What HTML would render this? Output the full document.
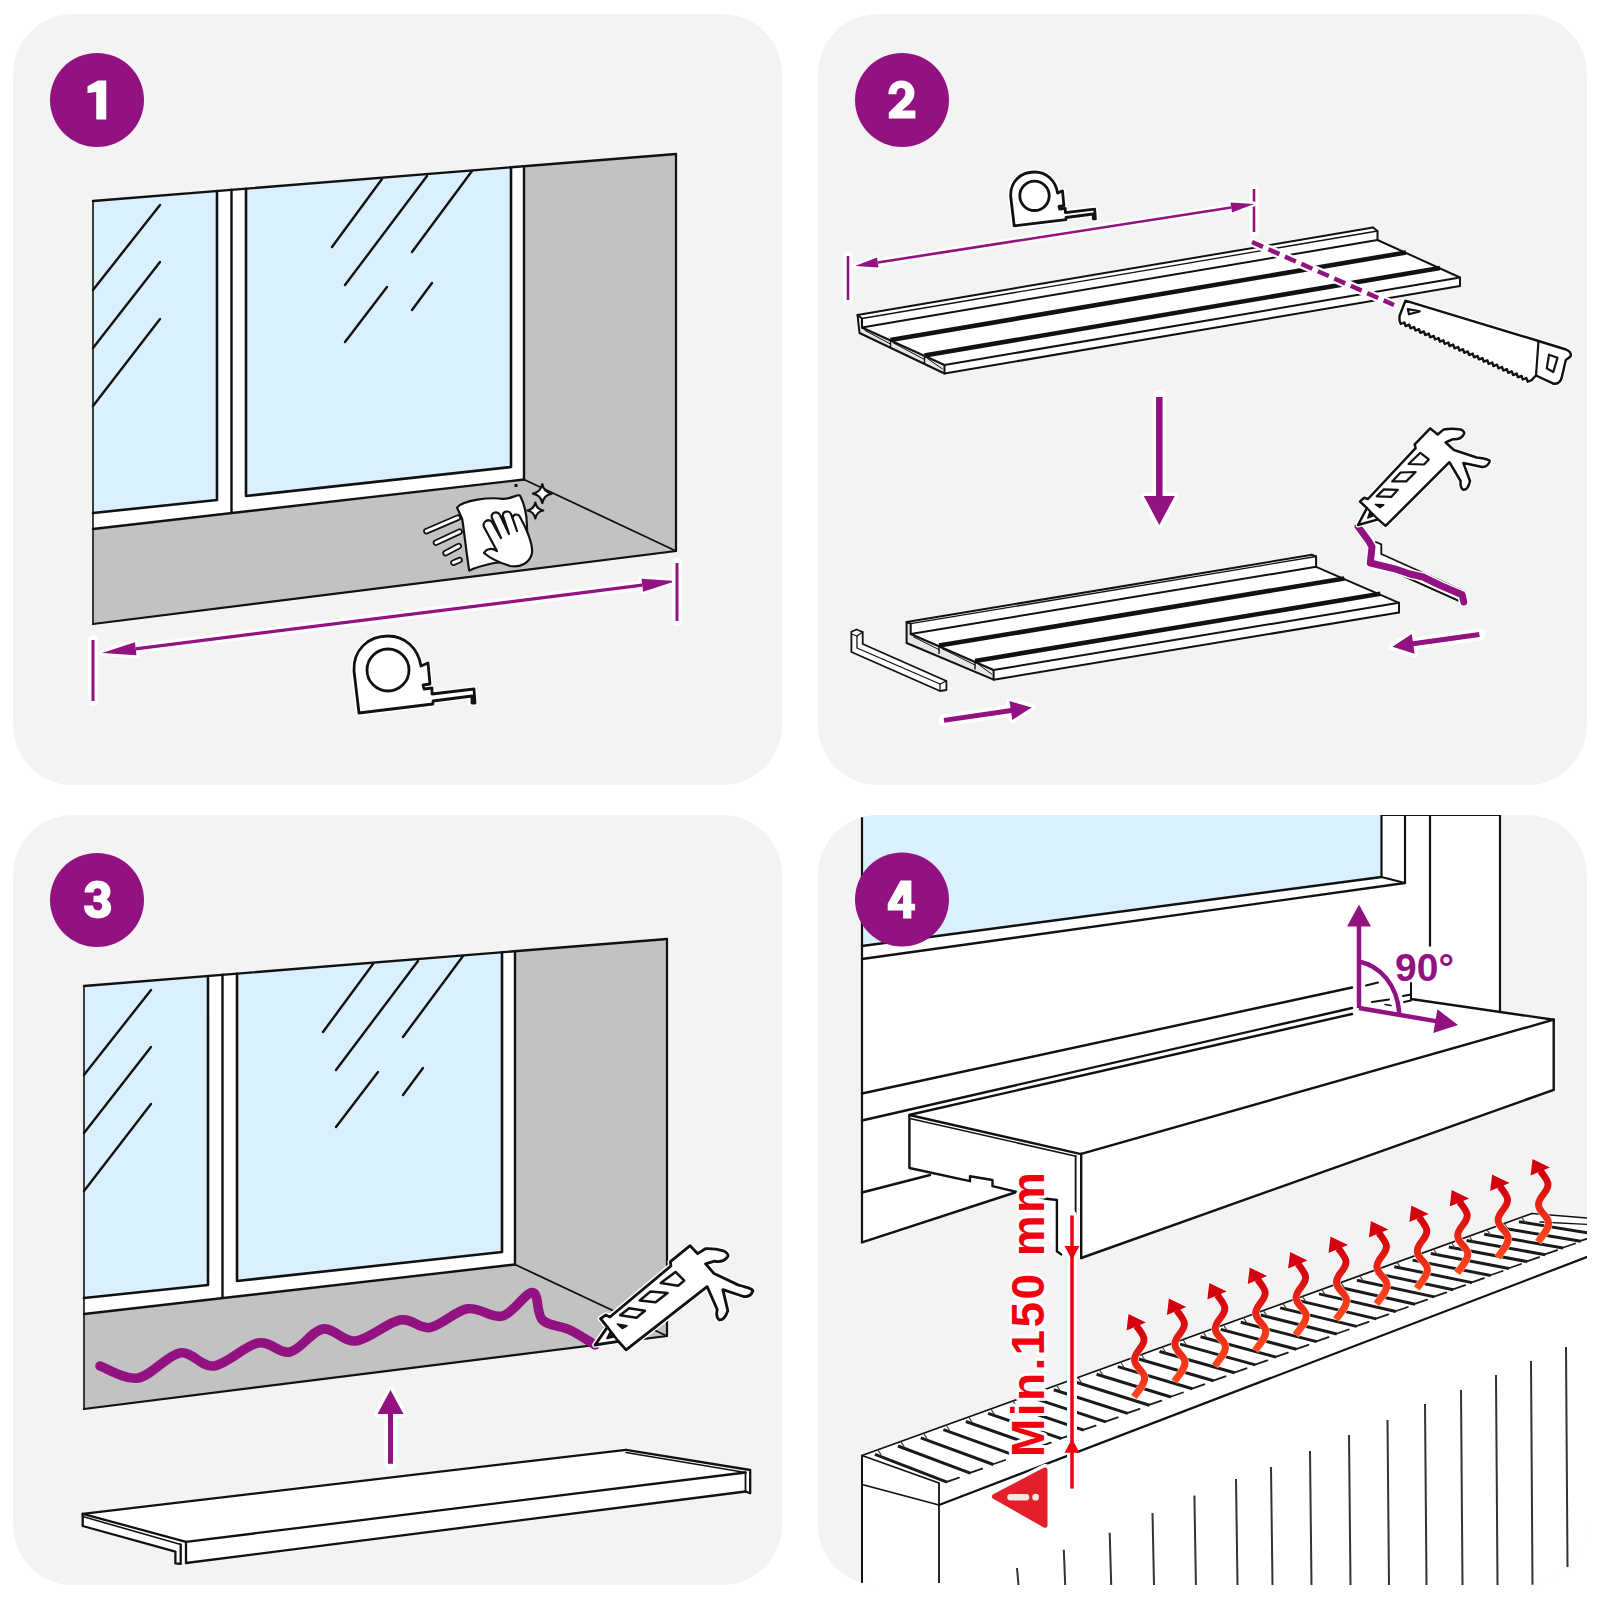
<!DOCTYPE html>
<html><head><meta charset="utf-8"><style>
html,body{margin:0;padding:0;background:#fff;}
svg{display:block;}
</style></head><body>
<svg width="1600" height="1600" viewBox="0 0 1600 1600">
<defs>
<clipPath id="c1"><rect x="13" y="14" width="769" height="771" rx="60"/></clipPath>
<clipPath id="c2"><rect x="818" y="14" width="769" height="771" rx="60"/></clipPath>
<clipPath id="c3"><rect x="13" y="815" width="769" height="770" rx="60"/></clipPath>
<clipPath id="c4"><rect x="818" y="815" width="769" height="770" rx="60"/></clipPath>
</defs>
<rect width="1600" height="1600" fill="#fff"/>
<rect x="13" y="14" width="769" height="771" rx="60" ry="60" fill="#f3f3f3"/>
<rect x="818" y="14" width="769" height="771" rx="60" ry="60" fill="#f3f3f3"/>
<rect x="13" y="815" width="769" height="770" rx="60" ry="60" fill="#f3f3f3"/>
<rect x="818" y="815" width="769" height="770" rx="60" ry="60" fill="#f3f3f3"/>
<g clip-path="url(#c1)">
<polygon points="93.0,201.0 524.0,166.3 524.0,479.5 93.0,529.0" fill="#fff" stroke="none" stroke-width="0" stroke-linejoin="round" />
<polygon points="524.0,166.3 676.0,154.0 676.0,551.0 524.0,479.5" fill="#c2c2c2" stroke="none" stroke-width="0" stroke-linejoin="round" />
<polygon points="93.0,529.0 524.0,479.5 676.0,551.0 676.0,552.0 93.0,624.0" fill="#c2c2c2" stroke="none" stroke-width="0" stroke-linejoin="round" />
<polygon points="93.0,201.0 217.0,191.0 217.0,500.0 93.0,513.0" fill="#dbf0fe" stroke="none" stroke-width="0" stroke-linejoin="round" />
<polygon points="246.0,188.7 511.0,167.3 511.0,467.0 246.0,496.0" fill="#dbf0fe" stroke="none" stroke-width="0" stroke-linejoin="round" />
<line x1="160.0" y1="205.0" x2="93.0" y2="290.0" stroke="#111" stroke-width="2.4" stroke-linecap="round" />
<line x1="160.0" y1="262.0" x2="93.0" y2="348.0" stroke="#111" stroke-width="2.4" stroke-linecap="round" />
<line x1="160.0" y1="319.0" x2="93.0" y2="406.0" stroke="#111" stroke-width="2.4" stroke-linecap="round" />
<line x1="382.0" y1="179.0" x2="332.0" y2="247.0" stroke="#111" stroke-width="2.4" stroke-linecap="round" />
<line x1="427.0" y1="176.0" x2="345.0" y2="285.0" stroke="#111" stroke-width="2.4" stroke-linecap="round" />
<line x1="472.0" y1="171.0" x2="412.0" y2="252.0" stroke="#111" stroke-width="2.4" stroke-linecap="round" />
<line x1="387.0" y1="287.0" x2="345.0" y2="342.0" stroke="#111" stroke-width="2.4" stroke-linecap="round" />
<line x1="432.0" y1="283.0" x2="412.0" y2="310.0" stroke="#111" stroke-width="2.4" stroke-linecap="round" />
<polyline points="217.0,191.0 217.0,500.0 93.0,513.0" fill="none" stroke="#111" stroke-width="2.6" stroke-linejoin="round" stroke-linecap="round" />
<polyline points="246.0,188.7 246.0,496.0 511.0,467.0 511.0,167.3" fill="none" stroke="#111" stroke-width="2.6" stroke-linejoin="round" stroke-linecap="round" />
<line x1="231.5" y1="189.8" x2="231.5" y2="512.0" stroke="#111" stroke-width="2.4" stroke-linecap="round" />
<line x1="524.0" y1="166.3" x2="524.0" y2="479.5" stroke="#111" stroke-width="2.4" stroke-linecap="round" />
<line x1="93.0" y1="201.0" x2="676.0" y2="154.0" stroke="#111" stroke-width="2.4" stroke-linecap="round" />
<line x1="93.0" y1="201.0" x2="93.0" y2="624.0" stroke="#111" stroke-width="1.6" stroke-linecap="butt" />
<line x1="93.0" y1="529.0" x2="524.0" y2="479.5" stroke="#111" stroke-width="2.4" stroke-linecap="round" />
<line x1="524.0" y1="479.5" x2="676.0" y2="551.0" stroke="#111" stroke-width="1.8" stroke-linecap="round" />
<line x1="676.0" y1="154.0" x2="676.0" y2="551.0" stroke="#111" stroke-width="2.2" stroke-linecap="round" />
<line x1="93.0" y1="624.0" x2="676.0" y2="551.0" stroke="#111" stroke-width="2.2" stroke-linecap="round" />
<line x1="426.4" y1="531.2" x2="457.9" y2="517.7" stroke="#111" stroke-width="6.5" stroke-linecap="round" />
<line x1="426.4" y1="531.2" x2="457.9" y2="517.7" stroke="#fff" stroke-width="3" stroke-linecap="round" />
<line x1="436.0" y1="542.6" x2="459.6" y2="531.7" stroke="#111" stroke-width="6.5" stroke-linecap="round" />
<line x1="436.0" y1="542.6" x2="459.6" y2="531.7" stroke="#fff" stroke-width="3" stroke-linecap="round" />
<line x1="445.6" y1="553.1" x2="458.7" y2="546.1" stroke="#111" stroke-width="6.5" stroke-linecap="round" />
<line x1="445.6" y1="553.1" x2="458.7" y2="546.1" stroke="#fff" stroke-width="3" stroke-linecap="round" />
<line x1="453.5" y1="562.7" x2="459.6" y2="560.1" stroke="#111" stroke-width="6.5" stroke-linecap="round" />
<line x1="453.5" y1="562.7" x2="459.6" y2="560.1" stroke="#fff" stroke-width="3" stroke-linecap="round" />
<path d="M457,507.6 C463,500 490,497 503,498.9 C512,499 517,494 520,495.4 C525,505 527,515 527,527 L528,560 L494,563 C485,565 476,567 469.2,570.6 C466,550 464,530 462.2,519 Z" fill="#fff" stroke="#111" stroke-width="2.2" stroke-linejoin="round" stroke-linecap="round" />
<path d="M484,553 C487,548 492,548 497,551 L484,527 C482,522 488,518 492,522 L501,538 L492,518 C490,513 497,510 500,515 L509,534 L503,516 C502,511 509,510 511,514 L517,531 L513,519 C512,514 518,513 520,517 C527,530 533,543 532,553 C530,563 520,568 510,566 C500,563 490,558 484,553 Z" fill="#fff" stroke="#111" stroke-width="2.2" stroke-linejoin="round" stroke-linecap="round" />
<path d="M542.3,484.1 Q543.8199999999999,492.08000000000004 551.8,493.6 Q543.8199999999999,495.12 542.3,503.1 Q540.78,495.12 532.8,493.6 Q540.78,492.08000000000004 542.3,484.1 Z" fill="#fff" stroke="#111" stroke-width="2.2" stroke-linejoin="round" stroke-linecap="round" />
<path d="M535.3,502.5 Q536.5799999999999,509.22 543.3,510.5 Q536.5799999999999,511.78 535.3,518.5 Q534.02,511.78 527.3,510.5 Q534.02,509.22 535.3,502.5 Z" fill="#fff" stroke="#111" stroke-width="2.2" stroke-linejoin="round" stroke-linecap="round" />
<rect x="514.5" y="484" width="3" height="3" fill="#111"/>
<line x1="135.7" y1="648.8" x2="642.3" y2="585.2" stroke="#fff" stroke-width="9.2" stroke-linecap="round" />
<polygon points="102.0,653.0 136.5,655.2 134.9,642.3" fill="#fff" stroke="#fff" stroke-width="6" stroke-linejoin="round" />
<polygon points="676.0,581.0 643.1,591.7 641.5,578.8" fill="#fff" stroke="#fff" stroke-width="6" stroke-linejoin="round" />
<line x1="135.7" y1="648.8" x2="642.3" y2="585.2" stroke="#931282" stroke-width="3.2" stroke-linecap="butt" />
<polygon points="102.0,653.0 136.5,655.2 134.9,642.3" fill="#931282" stroke="none" stroke-width="0" stroke-linejoin="round" />
<polygon points="676.0,581.0 643.1,591.7 641.5,578.8" fill="#931282" stroke="none" stroke-width="0" stroke-linejoin="round" />
<line x1="93.0" y1="640.0" x2="93.0" y2="701.0" stroke="#fff" stroke-width="10" stroke-linecap="round" />
<line x1="93.0" y1="640.0" x2="93.0" y2="701.0" stroke="#931282" stroke-width="3" stroke-linecap="butt" />
<line x1="677.0" y1="563.0" x2="677.0" y2="621.0" stroke="#fff" stroke-width="10" stroke-linecap="round" />
<line x1="677.0" y1="563.0" x2="677.0" y2="621.0" stroke="#931282" stroke-width="3" stroke-linecap="butt" />
<g transform="translate(353,636) scale(1.0) translate(-353,-636)">
<path d="M359,713 L354,671 C353,650 368,636 388,636 C405,636 418,648 421,666 L428,663 L430,684 L423,685 L424,689 L432,688 L432,694 L474,689 L475,703 L472,703 L472,696 L433,701 L433,704 Z" fill="#fff" stroke="#fff" stroke-width="6.0" stroke-linejoin="round" stroke-linecap="round" />
<path d="M359,713 L354,671 C353,650 368,636 388,636 C405,636 418,648 421,666 L428,663 L430,684 L423,685 L424,689 L432,688 L432,694 L474,689 L475,703 L472,703 L472,696 L433,701 L433,704 Z" fill="#fff" stroke="#111" stroke-width="2.8" stroke-linejoin="round" stroke-linecap="round" />
<circle cx="388" cy="670" r="21" fill="none" stroke="#111" stroke-width="2.80"/>
</g>
</g>
<g clip-path="url(#c2)">
<g transform="translate(1010,172) scale(0.7) translate(-353,-636)">
<path d="M359,713 L354,671 C353,650 368,636 388,636 C405,636 418,648 421,666 L428,663 L430,684 L423,685 L424,689 L432,688 L432,694 L474,689 L475,703 L472,703 L472,696 L433,701 L433,704 Z" fill="#fff" stroke="#fff" stroke-width="8.571428571428571" stroke-linejoin="round" stroke-linecap="round" />
<path d="M359,713 L354,671 C353,650 368,636 388,636 C405,636 418,648 421,666 L428,663 L430,684 L423,685 L424,689 L432,688 L432,694 L474,689 L475,703 L472,703 L472,696 L433,701 L433,704 Z" fill="#fff" stroke="#111" stroke-width="4.0" stroke-linejoin="round" stroke-linecap="round" />
<circle cx="388" cy="670" r="21" fill="none" stroke="#111" stroke-width="4.00"/>
</g>
<line x1="848.0" y1="256.0" x2="848.0" y2="300.0" stroke="#fff" stroke-width="9.6" stroke-linecap="round" />
<line x1="848.0" y1="256.0" x2="848.0" y2="300.0" stroke="#931282" stroke-width="2.6" stroke-linecap="butt" />
<line x1="1254.0" y1="189.0" x2="1254.0" y2="232.0" stroke="#fff" stroke-width="9.6" stroke-linecap="round" />
<line x1="1254.0" y1="189.0" x2="1254.0" y2="232.0" stroke="#931282" stroke-width="2.6" stroke-linecap="butt" />
<line x1="877.7" y1="262.5" x2="1231.3" y2="207.5" stroke="#fff" stroke-width="7.6" stroke-linecap="round" />
<polygon points="855.0,266.0 878.5,267.4 877.0,257.5" fill="#fff" stroke="#fff" stroke-width="5" stroke-linejoin="round" />
<polygon points="1254.0,204.0 1232.0,212.5 1230.5,202.6" fill="#fff" stroke="#fff" stroke-width="5" stroke-linejoin="round" />
<line x1="877.7" y1="262.5" x2="1231.3" y2="207.5" stroke="#931282" stroke-width="2.6" stroke-linecap="butt" />
<polygon points="855.0,266.0 878.5,267.4 877.0,257.5" fill="#931282" stroke="none" stroke-width="0" stroke-linejoin="round" />
<polygon points="1254.0,204.0 1232.0,212.5 1230.5,202.6" fill="#931282" stroke="none" stroke-width="0" stroke-linejoin="round" />
<polygon points="857.5,315.0 1373.0,227.5 1377.5,231.0 1377.5,240.0 1460.0,277.5 1460.0,286.0 944.5,373.5 859.5,333.0" fill="#fff" stroke="none" stroke-width="0" stroke-linejoin="round" />
<polygon points="857.5,315.0 862.0,318.5 862.0,327.5 944.5,365.0 944.5,373.5 859.5,333.0" fill="#e6e6e6" stroke="none" stroke-width="0" stroke-linejoin="round" />
<line x1="857.5" y1="315.0" x2="1373.0" y2="227.5" stroke="#111" stroke-width="2.0" stroke-linecap="round" />
<line x1="862.0" y1="318.5" x2="1377.5" y2="231.0" stroke="#111" stroke-width="1.3" stroke-linecap="round" />
<line x1="862.0" y1="327.5" x2="1377.5" y2="240.0" stroke="#111" stroke-width="2.0" stroke-linecap="round" />
<line x1="944.5" y1="365.0" x2="1460.0" y2="277.5" stroke="#111" stroke-width="2.0" stroke-linecap="round" />
<line x1="944.5" y1="373.5" x2="1460.0" y2="286.0" stroke="#111" stroke-width="2.0" stroke-linecap="round" />
<line x1="890.5" y1="340.0" x2="1406.0" y2="252.5" stroke="#111" stroke-width="4.6" stroke-linecap="butt" />
<line x1="924.5" y1="355.5" x2="1440.0" y2="268.0" stroke="#111" stroke-width="4.6" stroke-linecap="butt" />
<polyline points="857.5,315.0 859.5,333.0 944.5,373.5 944.5,365.0 862.0,327.5 862.0,318.5 857.5,315.0" fill="none" stroke="#111" stroke-width="2.0" stroke-linejoin="round" stroke-linecap="round" />
<polyline points="1373.0,227.5 1377.5,231.0 1377.5,240.0 1460.0,277.5 1460.0,286.0" fill="none" stroke="#111" stroke-width="2.0" stroke-linejoin="round" stroke-linecap="round" />
<line x1="865.0" y1="330.5" x2="890.5" y2="344.0" stroke="#111" stroke-width="1.0" stroke-linecap="round" />
<line x1="890.5" y1="341.0" x2="890.5" y2="348.0" stroke="#111" stroke-width="1.4" stroke-linecap="round" />
<line x1="924.5" y1="356.5" x2="924.5" y2="363.5" stroke="#111" stroke-width="1.4" stroke-linecap="round" />
<line x1="893.5" y1="343.0" x2="924.5" y2="359.5" stroke="#111" stroke-width="1.0" stroke-linecap="round" />
<line x1="927.5" y1="358.5" x2="942.5" y2="369.0" stroke="#111" stroke-width="1.0" stroke-linecap="round" />
<line x1="1252.0" y1="242.0" x2="1394.0" y2="305.0" stroke="#fff" stroke-width="9" stroke-linecap="round" />
<line x1="1252.0" y1="242.0" x2="1394.0" y2="305.0" stroke="#931282" stroke-width="4.5" stroke-linecap="butt" stroke-dasharray="12,6"/>
<path d="M1405.4,300.7 L1538.5,341 L1566,349.5 Q1572,352 1570.5,356.5 L1565.8,360 L1561.6,377.9 Q1560,384 1553.9,383.8 L1536,375.5 L1531.3,380.3 L1527.7,381.7 L1526.4,378.1 L1522.8,379.5 L1521.5,375.9 L1517.9,377.3 L1516.7,373.6 L1513.1,375.1 L1511.8,371.4 L1508.2,372.8 L1506.9,369.2 L1503.3,370.6 L1502.0,367.0 L1498.4,368.4 L1497.1,364.7 L1493.5,366.2 L1492.2,362.5 L1488.6,364.0 L1487.4,360.3 L1483.8,361.7 L1482.5,358.1 L1478.9,359.5 L1477.6,355.9 L1474.0,357.3 L1472.7,353.6 L1469.1,355.1 L1467.8,351.4 L1464.2,352.8 L1463.0,349.2 L1459.4,350.6 L1458.1,347.0 L1454.5,348.4 L1453.2,344.7 L1449.6,346.2 L1448.3,342.5 L1444.7,344.0 L1443.4,340.3 L1439.8,341.7 L1438.6,338.1 L1435.0,339.5 L1433.7,335.9 L1430.1,337.3 L1428.8,333.6 L1425.2,335.1 L1423.9,331.4 L1420.3,332.8 L1419.0,329.2 L1415.4,330.6 L1414.1,327.0 L1410.5,328.4 L1409.3,324.7 L1405.7,326.2 L1404.4,322.5 L1400.8,324.0 L1399.5,320.3 L1399.5,316 Z" fill="#fff" stroke="#fff" stroke-width="5" stroke-linejoin="round" stroke-linecap="round" />
<path d="M1405.4,300.7 L1538.5,341 L1566,349.5 Q1572,352 1570.5,356.5 L1565.8,360 L1561.6,377.9 Q1560,384 1553.9,383.8 L1536,375.5 L1531.3,380.3 L1527.7,381.7 L1526.4,378.1 L1522.8,379.5 L1521.5,375.9 L1517.9,377.3 L1516.7,373.6 L1513.1,375.1 L1511.8,371.4 L1508.2,372.8 L1506.9,369.2 L1503.3,370.6 L1502.0,367.0 L1498.4,368.4 L1497.1,364.7 L1493.5,366.2 L1492.2,362.5 L1488.6,364.0 L1487.4,360.3 L1483.8,361.7 L1482.5,358.1 L1478.9,359.5 L1477.6,355.9 L1474.0,357.3 L1472.7,353.6 L1469.1,355.1 L1467.8,351.4 L1464.2,352.8 L1463.0,349.2 L1459.4,350.6 L1458.1,347.0 L1454.5,348.4 L1453.2,344.7 L1449.6,346.2 L1448.3,342.5 L1444.7,344.0 L1443.4,340.3 L1439.8,341.7 L1438.6,338.1 L1435.0,339.5 L1433.7,335.9 L1430.1,337.3 L1428.8,333.6 L1425.2,335.1 L1423.9,331.4 L1420.3,332.8 L1419.0,329.2 L1415.4,330.6 L1414.1,327.0 L1410.5,328.4 L1409.3,324.7 L1405.7,326.2 L1404.4,322.5 L1400.8,324.0 L1399.5,320.3 L1399.5,316 Z" fill="#fff" stroke="#111" stroke-width="2.4" stroke-linejoin="round" stroke-linecap="round" />
<line x1="1538.5" y1="341.0" x2="1536.0" y2="375.5" stroke="#111" stroke-width="2.2" stroke-linecap="round" />
<polygon points="1549.0,354.7 1557.5,357.7 1553.3,372.0 1546.8,368.4" fill="none" stroke="#111" stroke-width="2.2" stroke-linejoin="round" />
<polygon points="1407.8,309.0 1419.7,311.4 1409.0,314.3" fill="none" stroke="#111" stroke-width="2.2" stroke-linejoin="round" />
<line x1="1159.3" y1="397.0" x2="1159.3" y2="498.0" stroke="#fff" stroke-width="13.5" stroke-linecap="round" />
<polygon points="1159.3,525.0 1143.8,496.0 1174.8,496.0" fill="#fff" stroke="#fff" stroke-width="7" stroke-linejoin="round" />
<line x1="1159.3" y1="397.0" x2="1159.3" y2="498.0" stroke="#931282" stroke-width="6.5" stroke-linecap="butt" />
<polygon points="1159.3,525.0 1143.8,496.0 1174.8,496.0" fill="#931282" stroke="none" stroke-width="0" stroke-linejoin="round" />
<polygon points="906.6,622.0 1312.0,554.8 1316.1,556.5 1316.1,566.8 1399.0,602.8 1399.0,612.5 993.6,679.7 906.6,643.0" fill="#fff" stroke="none" stroke-width="0" stroke-linejoin="round" />
<polygon points="906.6,622.0 910.7,623.7 910.7,634.0 993.6,670.0 993.6,679.7 906.6,643.0" fill="#e6e6e6" stroke="none" stroke-width="0" stroke-linejoin="round" />
<line x1="906.6" y1="622.0" x2="1312.0" y2="554.8" stroke="#111" stroke-width="2.0" stroke-linecap="round" />
<line x1="910.7" y1="623.7" x2="1316.1" y2="556.5" stroke="#111" stroke-width="1.3" stroke-linecap="round" />
<line x1="910.7" y1="634.0" x2="1316.1" y2="566.8" stroke="#111" stroke-width="2.0" stroke-linecap="round" />
<line x1="993.6" y1="670.0" x2="1399.0" y2="602.8" stroke="#111" stroke-width="2.0" stroke-linecap="round" />
<line x1="993.6" y1="679.7" x2="1399.0" y2="612.5" stroke="#111" stroke-width="2.0" stroke-linecap="round" />
<line x1="939.0" y1="645.6" x2="1344.4" y2="578.4" stroke="#111" stroke-width="4.6" stroke-linecap="butt" />
<line x1="975.0" y1="661.0" x2="1380.4" y2="593.8" stroke="#111" stroke-width="4.6" stroke-linecap="butt" />
<polyline points="906.6,622.0 906.6,643.0 993.6,679.7 993.6,670.0 910.7,634.0 910.7,623.7 906.6,622.0" fill="none" stroke="#111" stroke-width="2.0" stroke-linejoin="round" stroke-linecap="round" />
<polyline points="1312.0,554.8 1316.1,556.5 1316.1,566.8 1399.0,602.8 1399.0,612.5" fill="none" stroke="#111" stroke-width="2.0" stroke-linejoin="round" stroke-linecap="round" />
<line x1="913.7" y1="637.0" x2="939.0" y2="649.6" stroke="#111" stroke-width="1.0" stroke-linecap="round" />
<line x1="939.0" y1="646.6" x2="939.0" y2="653.6" stroke="#111" stroke-width="1.4" stroke-linecap="round" />
<line x1="975.0" y1="662.0" x2="975.0" y2="669.0" stroke="#111" stroke-width="1.4" stroke-linecap="round" />
<line x1="942.0" y1="648.6" x2="975.0" y2="665.0" stroke="#111" stroke-width="1.0" stroke-linecap="round" />
<line x1="978.0" y1="664.0" x2="991.6" y2="674.0" stroke="#111" stroke-width="1.0" stroke-linecap="round" />
<path d="M851.4,631.8 L856.5,629.5 L862.7,632 L862.7,644 L946.4,681 L946.4,690 L940,691 L851.4,652 Z" fill="#fff" stroke="#111" stroke-width="1.8" stroke-linejoin="round" stroke-linecap="round" />
<polyline points="851.4,634.0 857.0,636.0 862.7,632.0" fill="none" stroke="#111" stroke-width="1.3" stroke-linejoin="round" stroke-linecap="round" />
<polyline points="857.0,636.0 857.0,648.0 940.0,684.0 946.4,681.0" fill="none" stroke="#111" stroke-width="1.3" stroke-linejoin="round" stroke-linecap="round" />
<line x1="940.0" y1="684.0" x2="940.0" y2="691.0" stroke="#111" stroke-width="1.3" stroke-linecap="round" />
<line x1="944.0" y1="720.4" x2="1012.9" y2="710.2" stroke="#fff" stroke-width="12" stroke-linecap="round" />
<polygon points="1031.7,707.4 1012.3,719.9 1009.5,701.1" fill="#fff" stroke="#fff" stroke-width="7" stroke-linejoin="round" />
<line x1="944.0" y1="720.4" x2="1012.9" y2="710.2" stroke="#931282" stroke-width="5" stroke-linecap="butt" />
<polygon points="1031.7,707.4 1012.3,719.9 1009.5,701.1" fill="#931282" stroke="none" stroke-width="0" stroke-linejoin="round" />
<path d="M1376,542 L1381.3,544.4 L1381.3,554 L1464.6,591.5 L1464.6,601.3 L1458,600.5 L1381,566 L1372,562 L1372,545 Z" fill="#fff" stroke="#111" stroke-width="1.8" stroke-linejoin="round" stroke-linecap="round" />
<line x1="1381.0" y1="566.0" x2="1458.0" y2="600.5" stroke="#111" stroke-width="1.6" stroke-linecap="round" />
<polyline points="1358.0,526.5 1368.7,541.0 1372.0,546.8 1370.3,563.0 1394.7,568.8 1410.0,574.0 1423.0,577.0 1439.4,585.0 1462.2,594.8 1463.8,602.0" fill="none" stroke="#fff" stroke-width="10" stroke-linejoin="round" stroke-linecap="round" />
<polyline points="1358.0,526.5 1368.7,541.0 1372.0,546.8 1370.3,563.0 1394.7,568.8 1410.0,574.0 1423.0,577.0 1439.4,585.0 1462.2,594.8 1463.8,602.0" fill="none" stroke="#931282" stroke-width="7" stroke-linejoin="round" stroke-linecap="round" />
<path d="M1358,525 L1366.9,508.1 L1360,501.5 L1364,497.8 L1368,499 L1415.6,448.1 L1414.7,444.4 L1430.2,428.4 L1437.7,434.5 L1443.75,429.4 Q1452,428 1460.6,429.4 Q1466,432 1463.4,435 Q1460,440 1453,439.2 L1445.6,442.5 L1454,450 L1476.6,457.5 Q1490,459 1489.7,461.25 Q1488,467 1482.2,466.9 L1463.4,463.1 L1470,481 Q1468,490 1463.4,489.8 Q1460,488 1460.6,481 L1449.4,462.2 L1385.6,525.9 L1378.1,519.4 Z" fill="#fff" stroke="#fff" stroke-width="5" stroke-linejoin="round" stroke-linecap="round" />
<path d="M1358,525 L1366.9,508.1 L1360,501.5 L1364,497.8 L1368,499 L1415.6,448.1 L1414.7,444.4 L1430.2,428.4 L1437.7,434.5 L1443.75,429.4 Q1452,428 1460.6,429.4 Q1466,432 1463.4,435 Q1460,440 1453,439.2 L1445.6,442.5 L1454,450 L1476.6,457.5 Q1490,459 1489.7,461.25 Q1488,467 1482.2,466.9 L1463.4,463.1 L1470,481 Q1468,490 1463.4,489.8 Q1460,488 1460.6,481 L1449.4,462.2 L1385.6,525.9 L1378.1,519.4 Z" fill="#fff" stroke="#111" stroke-width="2.5" stroke-linejoin="round" stroke-linecap="round" />
<polygon points="1408.6,464.0 1420.3,452.8 1428.8,459.4 1424.0,464.5" fill="none" stroke="#111" stroke-width="2.2" stroke-linejoin="round" />
<polygon points="1392.2,481.4 1400.6,472.5 1415.6,472.0 1406.2,481.4" fill="none" stroke="#111" stroke-width="2.2" stroke-linejoin="round" />
<polygon points="1376.7,496.4 1383.8,489.4 1397.8,489.8 1391.2,496.9" fill="none" stroke="#111" stroke-width="2.2" stroke-linejoin="round" />
<polygon points="1375.3,504.4 1383.8,504.8 1380.0,507.7" fill="#111" stroke="#111" stroke-width="1.5" stroke-linejoin="round" />
<polygon points="1367.8,518.0 1369.7,512.3 1373.9,515.6" fill="#111" stroke="#111" stroke-width="1.5" stroke-linejoin="round" />
<line x1="1366.9" y1="508.1" x2="1378.1" y2="519.4" stroke="#111" stroke-width="2.2" stroke-linecap="round" />
<line x1="1479.4" y1="634.5" x2="1411.2" y2="644.1" stroke="#fff" stroke-width="12" stroke-linecap="round" />
<polygon points="1392.4,646.7 1411.8,633.9 1414.6,653.7" fill="#fff" stroke="#fff" stroke-width="7" stroke-linejoin="round" />
<line x1="1479.4" y1="634.5" x2="1411.2" y2="644.1" stroke="#931282" stroke-width="5" stroke-linecap="butt" />
<polygon points="1392.4,646.7 1411.8,633.9 1414.6,653.7" fill="#931282" stroke="none" stroke-width="0" stroke-linejoin="round" />
</g>
<g clip-path="url(#c3)">
<g transform="translate(-9,785)">
<polygon points="93.0,201.0 524.0,166.3 524.0,479.5 93.0,529.0" fill="#fff" stroke="none" stroke-width="0" stroke-linejoin="round" />
<polygon points="524.0,166.3 676.0,154.0 676.0,551.0 524.0,479.5" fill="#c2c2c2" stroke="none" stroke-width="0" stroke-linejoin="round" />
<polygon points="93.0,529.0 524.0,479.5 676.0,551.0 676.0,552.0 93.0,624.0" fill="#c2c2c2" stroke="none" stroke-width="0" stroke-linejoin="round" />
<polygon points="93.0,201.0 217.0,191.0 217.0,500.0 93.0,513.0" fill="#dbf0fe" stroke="none" stroke-width="0" stroke-linejoin="round" />
<polygon points="246.0,188.7 511.0,167.3 511.0,467.0 246.0,496.0" fill="#dbf0fe" stroke="none" stroke-width="0" stroke-linejoin="round" />
<line x1="160.0" y1="205.0" x2="93.0" y2="290.0" stroke="#111" stroke-width="2.4" stroke-linecap="round" />
<line x1="160.0" y1="262.0" x2="93.0" y2="348.0" stroke="#111" stroke-width="2.4" stroke-linecap="round" />
<line x1="160.0" y1="319.0" x2="93.0" y2="406.0" stroke="#111" stroke-width="2.4" stroke-linecap="round" />
<line x1="382.0" y1="179.0" x2="332.0" y2="247.0" stroke="#111" stroke-width="2.4" stroke-linecap="round" />
<line x1="427.0" y1="176.0" x2="345.0" y2="285.0" stroke="#111" stroke-width="2.4" stroke-linecap="round" />
<line x1="472.0" y1="171.0" x2="412.0" y2="252.0" stroke="#111" stroke-width="2.4" stroke-linecap="round" />
<line x1="387.0" y1="287.0" x2="345.0" y2="342.0" stroke="#111" stroke-width="2.4" stroke-linecap="round" />
<line x1="432.0" y1="283.0" x2="412.0" y2="310.0" stroke="#111" stroke-width="2.4" stroke-linecap="round" />
<polyline points="217.0,191.0 217.0,500.0 93.0,513.0" fill="none" stroke="#111" stroke-width="2.6" stroke-linejoin="round" stroke-linecap="round" />
<polyline points="246.0,188.7 246.0,496.0 511.0,467.0 511.0,167.3" fill="none" stroke="#111" stroke-width="2.6" stroke-linejoin="round" stroke-linecap="round" />
<line x1="231.5" y1="189.8" x2="231.5" y2="512.0" stroke="#111" stroke-width="2.4" stroke-linecap="round" />
<line x1="524.0" y1="166.3" x2="524.0" y2="479.5" stroke="#111" stroke-width="2.4" stroke-linecap="round" />
<line x1="93.0" y1="201.0" x2="676.0" y2="154.0" stroke="#111" stroke-width="2.4" stroke-linecap="round" />
<line x1="93.0" y1="201.0" x2="93.0" y2="624.0" stroke="#111" stroke-width="1.6" stroke-linecap="butt" />
<line x1="93.0" y1="529.0" x2="524.0" y2="479.5" stroke="#111" stroke-width="2.4" stroke-linecap="round" />
<line x1="524.0" y1="479.5" x2="676.0" y2="551.0" stroke="#111" stroke-width="1.8" stroke-linecap="round" />
<line x1="676.0" y1="154.0" x2="676.0" y2="551.0" stroke="#111" stroke-width="2.2" stroke-linecap="round" />
<line x1="93.0" y1="624.0" x2="676.0" y2="551.0" stroke="#111" stroke-width="2.2" stroke-linecap="round" />
</g>
<path d="M100.0,1366.0 C106.3,1368.0 124.7,1380.2 138.0,1378.0 C151.3,1375.8 167.3,1355.0 180.0,1353.0 C192.7,1351.0 201.0,1367.7 214.0,1366.0 C227.0,1364.3 245.3,1345.3 258.0,1343.0 C270.7,1340.7 279.2,1354.3 290.0,1352.0 C300.8,1349.7 312.0,1330.8 323.0,1329.0 C334.0,1327.2 343.2,1342.5 356.0,1341.0 C368.8,1339.5 387.7,1322.2 400.0,1320.0 C412.3,1317.8 418.8,1329.4 430.0,1327.5 C441.2,1325.6 455.4,1310.7 467.5,1308.8 C479.6,1306.8 491.7,1318.7 502.5,1316.0 C513.3,1313.3 525.8,1291.8 532.5,1292.5 C539.2,1293.2 536.2,1313.8 542.5,1320.0 C548.8,1326.2 561.2,1325.8 570.0,1330.0 C578.8,1334.2 590.8,1342.5 595.0,1345.0" fill="none" stroke="#931282" stroke-width="9.5" stroke-linejoin="round" stroke-linecap="round" />
<g transform="translate(595,1345) rotate(7) scale(1.14) translate(-1358,-525)">
<path d="M1358,525 L1366.9,508.1 L1360,501.5 L1364,497.8 L1368,499 L1415.6,448.1 L1414.7,444.4 L1430.2,428.4 L1437.7,434.5 L1443.75,429.4 Q1452,428 1460.6,429.4 Q1466,432 1463.4,435 Q1460,440 1453,439.2 L1445.6,442.5 L1454,450 L1476.6,457.5 Q1490,459 1489.7,461.25 Q1488,467 1482.2,466.9 L1463.4,463.1 L1470,481 Q1468,490 1463.4,489.8 Q1460,488 1460.6,481 L1449.4,462.2 L1385.6,525.9 L1378.1,519.4 Z" fill="#fff" stroke="#fff" stroke-width="5" stroke-linejoin="round" stroke-linecap="round" />
<path d="M1358,525 L1366.9,508.1 L1360,501.5 L1364,497.8 L1368,499 L1415.6,448.1 L1414.7,444.4 L1430.2,428.4 L1437.7,434.5 L1443.75,429.4 Q1452,428 1460.6,429.4 Q1466,432 1463.4,435 Q1460,440 1453,439.2 L1445.6,442.5 L1454,450 L1476.6,457.5 Q1490,459 1489.7,461.25 Q1488,467 1482.2,466.9 L1463.4,463.1 L1470,481 Q1468,490 1463.4,489.8 Q1460,488 1460.6,481 L1449.4,462.2 L1385.6,525.9 L1378.1,519.4 Z" fill="#fff" stroke="#111" stroke-width="2.5" stroke-linejoin="round" stroke-linecap="round" />
<polygon points="1408.6,464.0 1420.3,452.8 1428.8,459.4 1424.0,464.5" fill="none" stroke="#111" stroke-width="2.2" stroke-linejoin="round" />
<polygon points="1392.2,481.4 1400.6,472.5 1415.6,472.0 1406.2,481.4" fill="none" stroke="#111" stroke-width="2.2" stroke-linejoin="round" />
<polygon points="1376.7,496.4 1383.8,489.4 1397.8,489.8 1391.2,496.9" fill="none" stroke="#111" stroke-width="2.2" stroke-linejoin="round" />
<polygon points="1375.3,504.4 1383.8,504.8 1380.0,507.7" fill="#111" stroke="#111" stroke-width="1.5" stroke-linejoin="round" />
<polygon points="1367.8,518.0 1369.7,512.3 1373.9,515.6" fill="#111" stroke="#111" stroke-width="1.5" stroke-linejoin="round" />
<line x1="1366.9" y1="508.1" x2="1378.1" y2="519.4" stroke="#111" stroke-width="2.2" stroke-linecap="round" />
</g>
<line x1="390.5" y1="1463.8" x2="390.5" y2="1412.0" stroke="#fff" stroke-width="12" stroke-linecap="round" />
<polygon points="390.5,1390.0 403.5,1414.0 377.5,1414.0" fill="#fff" stroke="#fff" stroke-width="7" stroke-linejoin="round" />
<line x1="390.5" y1="1463.8" x2="390.5" y2="1412.0" stroke="#931282" stroke-width="5" stroke-linecap="butt" />
<polygon points="390.5,1390.0 403.5,1414.0 377.5,1414.0" fill="#931282" stroke="none" stroke-width="0" stroke-linejoin="round" />
<polygon points="82.7,1513.8 626.0,1449.8 750.2,1470.0 750.2,1493.3 746.0,1491.2 186.0,1563.0 180.7,1563.8 175.4,1563.4 175.4,1551.6 82.7,1526.0" fill="#fff" stroke="none" stroke-width="0" stroke-linejoin="round" />
<line x1="82.7" y1="1513.8" x2="626.0" y2="1449.8" stroke="#111" stroke-width="2.3" stroke-linecap="round" />
<line x1="186.0" y1="1541.9" x2="745.5" y2="1472.5" stroke="#111" stroke-width="2.3" stroke-linecap="round" />
<line x1="186.0" y1="1563.0" x2="745.5" y2="1491.5" stroke="#111" stroke-width="2.3" stroke-linecap="round" />
<polyline points="82.7,1513.8 186.0,1541.9 186.0,1563.0" fill="none" stroke="#111" stroke-width="2.3" stroke-linejoin="round" stroke-linecap="round" />
<line x1="82.7" y1="1516.5" x2="179.9" y2="1544.3" stroke="#111" stroke-width="1.6" stroke-linecap="round" />
<polyline points="82.7,1513.8 82.7,1526.0 175.4,1551.6 175.4,1563.4 180.7,1563.8 180.7,1544.3" fill="none" stroke="#111" stroke-width="2.3" stroke-linejoin="round" stroke-linecap="round" />
<polyline points="626.0,1449.8 750.2,1470.0 750.2,1493.3 745.5,1491.5" fill="none" stroke="#111" stroke-width="2.3" stroke-linejoin="round" stroke-linecap="round" />
<line x1="626.0" y1="1452.5" x2="745.5" y2="1472.5" stroke="#111" stroke-width="1.6" stroke-linecap="round" />
<line x1="745.5" y1="1472.5" x2="745.5" y2="1491.5" stroke="#111" stroke-width="1.8" stroke-linecap="round" />
</g>
<g clip-path="url(#c4)">
<polygon points="862.0,815.0 1500.0,815.0 1500.0,1012.0 1553.7,1019.7 1553.7,1089.8 1081.2,1258.0 1061.2,1254.4 1056.9,1251.2 1015.0,1192.5 862.0,1243.0" fill="#fff" stroke="none" stroke-width="0" stroke-linejoin="round" />
<polygon points="862.0,800.0 1381.5,800.0 1381.5,877.0 862.0,946.0" fill="#dbf0fe" stroke="none" stroke-width="0" stroke-linejoin="round" />
<line x1="862.0" y1="800.0" x2="862.0" y2="1243.0" stroke="#111" stroke-width="2.2" stroke-linecap="butt" />
<line x1="862.0" y1="946.0" x2="1381.5" y2="877.0" stroke="#111" stroke-width="2.4" stroke-linecap="round" />
<line x1="1381.5" y1="800.0" x2="1381.5" y2="877.0" stroke="#111" stroke-width="2.2" stroke-linecap="butt" />
<line x1="862.0" y1="959.0" x2="1405.0" y2="883.0" stroke="#111" stroke-width="2.4" stroke-linecap="round" />
<line x1="1381.5" y1="877.0" x2="1405.0" y2="883.0" stroke="#111" stroke-width="2" stroke-linecap="round" />
<line x1="1405.0" y1="800.0" x2="1405.0" y2="883.0" stroke="#111" stroke-width="2.2" stroke-linecap="butt" />
<line x1="1430.0" y1="800.0" x2="1430.0" y2="946.5" stroke="#111" stroke-width="2.2" stroke-linecap="butt" />
<line x1="1500.0" y1="800.0" x2="1500.0" y2="1012.0" stroke="#111" stroke-width="2.2" stroke-linecap="butt" />
<line x1="1381.5" y1="815.0" x2="1500.0" y2="815.0" stroke="#111" stroke-width="2.2" stroke-linecap="butt" />
<line x1="862.0" y1="1093.5" x2="1352.0" y2="987.5" stroke="#111" stroke-width="2.4" stroke-linecap="round" />
<line x1="862.0" y1="1120.5" x2="1352.0" y2="1008.0" stroke="#111" stroke-width="2.4" stroke-linecap="round" />
<line x1="862.0" y1="1192.5" x2="930.0" y2="1175.0" stroke="#111" stroke-width="2.4" stroke-linecap="round" />
<line x1="862.0" y1="1242.4" x2="1015.0" y2="1192.5" stroke="#111" stroke-width="2.4" stroke-linecap="round" />
<polygon points="909.4,1115.0 1411.0,999.0 1553.7,1019.7 1080.0,1153.8" fill="#fff" stroke="none" stroke-width="0" stroke-linejoin="round" />
<polygon points="1080.0,1153.8 1553.7,1019.7 1553.7,1089.8 1081.2,1258.0" fill="#fff" stroke="none" stroke-width="0" stroke-linejoin="round" />
<polygon points="909.4,1115.0 1080.0,1153.8 1081.2,1258.0 1061.2,1254.4 1056.9,1251.2 1056.9,1200.0 1046.2,1198.8 992.5,1186.2 992.5,1180.0 970.0,1176.2 970.0,1181.2 909.4,1168.0" fill="#fff" stroke="none" stroke-width="0" stroke-linejoin="round" />
<line x1="911.0" y1="1114.5" x2="1352.0" y2="1014.0" stroke="#111" stroke-width="2.4" stroke-linecap="round" />
<line x1="1411.0" y1="983.0" x2="1411.0" y2="999.0" stroke="#111" stroke-width="2" stroke-linecap="round" />
<line x1="1411.0" y1="999.0" x2="1553.7" y2="1019.7" stroke="#111" stroke-width="2.4" stroke-linecap="round" />
<line x1="1081.2" y1="1153.8" x2="1553.7" y2="1019.7" stroke="#111" stroke-width="2.4" stroke-linecap="round" />
<line x1="1553.7" y1="1019.7" x2="1553.7" y2="1089.8" stroke="#111" stroke-width="2.4" stroke-linecap="round" />
<line x1="1081.2" y1="1258.0" x2="1553.7" y2="1089.8" stroke="#111" stroke-width="2.4" stroke-linecap="round" />
<line x1="909.4" y1="1115.0" x2="1080.0" y2="1153.8" stroke="#111" stroke-width="2.4" stroke-linecap="round" />
<line x1="911.0" y1="1118.8" x2="1076.0" y2="1156.2" stroke="#111" stroke-width="1.6" stroke-linecap="round" />
<polyline points="909.4,1115.0 909.4,1168.0 970.0,1181.2 970.0,1176.2 992.5,1180.0 992.5,1186.2 1046.2,1198.8 1056.9,1200.0 1056.9,1251.2 1061.2,1254.4" fill="none" stroke="#111" stroke-width="2.4" stroke-linejoin="round" stroke-linecap="round" />
<line x1="1081.2" y1="1153.8" x2="1081.2" y2="1258.0" stroke="#111" stroke-width="2.4" stroke-linecap="round" />
<line x1="1075.6" y1="1156.0" x2="1075.6" y2="1252.0" stroke="#111" stroke-width="1.8" stroke-linecap="round" />
<line x1="1366.0" y1="985.5" x2="1378.0" y2="982.5" stroke="#111" stroke-width="2.2" stroke-linecap="round" />
<line x1="1372.0" y1="1002.0" x2="1389.0" y2="999.5" stroke="#111" stroke-width="2.2" stroke-linecap="round" />
<line x1="1385.0" y1="1004.5" x2="1391.0" y2="1005.5" stroke="#111" stroke-width="1.6" stroke-linecap="round" />
<line x1="1403.0" y1="996.0" x2="1411.0" y2="994.5" stroke="#111" stroke-width="2" stroke-linecap="round" />
<line x1="1404.0" y1="1002.0" x2="1411.0" y2="1000.5" stroke="#111" stroke-width="2" stroke-linecap="round" />
<path d="M1359,961.5 C1380,966 1397,984 1399.3,1013" fill="none" stroke="#931282" stroke-width="4.5"/>
<line x1="1359.0" y1="1008.0" x2="1359.0" y2="924.5" stroke="#931282" stroke-width="4.5" stroke-linecap="butt" />
<polygon points="1359.0,904.5 1371.0,926.5 1347.0,926.5" fill="#931282" stroke="none" stroke-width="0" stroke-linejoin="round" />
<line x1="1359.0" y1="1008.0" x2="1437.3" y2="1021.4" stroke="#931282" stroke-width="4.5" stroke-linecap="butt" />
<polygon points="1458.0,1025.0 1433.3,1032.9 1437.4,1009.3" fill="#931282" stroke="none" stroke-width="0" stroke-linejoin="round" />
<text x="1395" y="980.5" font-family="Liberation Sans, sans-serif" font-weight="bold" font-size="39" fill="#931282">90°</text>
<polygon points="862.0,1455.5 1532.0,1213.5 1600.0,1220.0 1600.0,1600.0 862.0,1600.0" fill="#fff" stroke="none" stroke-width="0" stroke-linejoin="round" />
<line x1="862.0" y1="1455.5" x2="862.0" y2="1583.0" stroke="#111" stroke-width="2" stroke-linecap="butt" />
<line x1="862.0" y1="1455.5" x2="1532.0" y2="1213.5" stroke="#111" stroke-width="1.8" stroke-linecap="round" />
<line x1="1532.0" y1="1213.5" x2="1600.0" y2="1219.0" stroke="#111" stroke-width="1.6" stroke-linecap="round" />
<line x1="1540.0" y1="1222.0" x2="1600.0" y2="1225.0" stroke="#111" stroke-width="1.4" stroke-linecap="round" />
<line x1="862.0" y1="1455.5" x2="939.0" y2="1483.0" stroke="#111" stroke-width="1.8" stroke-linecap="round" />
<line x1="862.0" y1="1484.5" x2="939.0" y2="1505.0" stroke="#111" stroke-width="1.8" stroke-linecap="round" />
<line x1="939.0" y1="1483.0" x2="939.0" y2="1583.0" stroke="#111" stroke-width="1.8" stroke-linecap="butt" />
<line x1="939.0" y1="1505.0" x2="1600.0" y2="1252.0" stroke="#111" stroke-width="2.2" stroke-linecap="round" />
<line x1="875.0" y1="1454.3" x2="947.0" y2="1482.1" stroke="#1a1a1a" stroke-width="3.0" stroke-linecap="butt" />
<line x1="946.0" y1="1482.1" x2="959.0" y2="1477.6" stroke="#1a1a1a" stroke-width="1.8" stroke-linecap="round" />
<line x1="878.0" y1="1450.2" x2="881.0" y2="1454.7" stroke="#444" stroke-width="1.2" stroke-linecap="round" />
<line x1="898.0" y1="1446.0" x2="970.2" y2="1473.2" stroke="#1a1a1a" stroke-width="3.0" stroke-linecap="butt" />
<line x1="969.2" y1="1473.2" x2="982.2" y2="1468.7" stroke="#1a1a1a" stroke-width="1.8" stroke-linecap="round" />
<line x1="901.0" y1="1441.9" x2="904.0" y2="1446.4" stroke="#444" stroke-width="1.2" stroke-linecap="round" />
<line x1="920.8" y1="1437.8" x2="993.3" y2="1464.5" stroke="#1a1a1a" stroke-width="3.0" stroke-linecap="butt" />
<line x1="992.3" y1="1464.5" x2="1005.3" y2="1460.0" stroke="#1a1a1a" stroke-width="1.8" stroke-linecap="round" />
<line x1="923.8" y1="1433.7" x2="926.8" y2="1438.2" stroke="#444" stroke-width="1.2" stroke-linecap="round" />
<line x1="943.4" y1="1429.6" x2="1016.1" y2="1455.8" stroke="#1a1a1a" stroke-width="3.0" stroke-linecap="butt" />
<line x1="1015.1" y1="1455.8" x2="1028.1" y2="1451.3" stroke="#1a1a1a" stroke-width="1.8" stroke-linecap="round" />
<line x1="946.4" y1="1425.5" x2="949.4" y2="1430.0" stroke="#444" stroke-width="1.2" stroke-linecap="round" />
<line x1="965.9" y1="1421.5" x2="1038.8" y2="1447.2" stroke="#1a1a1a" stroke-width="3.0" stroke-linecap="butt" />
<line x1="1037.8" y1="1447.2" x2="1050.8" y2="1442.7" stroke="#1a1a1a" stroke-width="1.8" stroke-linecap="round" />
<line x1="968.9" y1="1417.4" x2="971.9" y2="1421.9" stroke="#444" stroke-width="1.2" stroke-linecap="round" />
<line x1="988.1" y1="1413.4" x2="1061.3" y2="1438.6" stroke="#1a1a1a" stroke-width="3.0" stroke-linecap="butt" />
<line x1="1060.3" y1="1438.6" x2="1073.3" y2="1434.1" stroke="#1a1a1a" stroke-width="1.8" stroke-linecap="round" />
<line x1="991.1" y1="1409.4" x2="994.1" y2="1413.9" stroke="#444" stroke-width="1.2" stroke-linecap="round" />
<line x1="1010.2" y1="1405.5" x2="1083.6" y2="1430.2" stroke="#1a1a1a" stroke-width="3.0" stroke-linecap="butt" />
<line x1="1082.6" y1="1430.2" x2="1095.6" y2="1425.7" stroke="#1a1a1a" stroke-width="1.8" stroke-linecap="round" />
<line x1="1013.2" y1="1401.4" x2="1016.2" y2="1405.9" stroke="#444" stroke-width="1.2" stroke-linecap="round" />
<line x1="1032.1" y1="1397.6" x2="1105.7" y2="1421.8" stroke="#1a1a1a" stroke-width="3.0" stroke-linecap="butt" />
<line x1="1104.7" y1="1421.8" x2="1117.7" y2="1417.3" stroke="#1a1a1a" stroke-width="1.8" stroke-linecap="round" />
<line x1="1035.1" y1="1393.5" x2="1038.1" y2="1398.0" stroke="#444" stroke-width="1.2" stroke-linecap="round" />
<line x1="1053.8" y1="1389.7" x2="1127.6" y2="1413.4" stroke="#1a1a1a" stroke-width="3.0" stroke-linecap="butt" />
<line x1="1126.6" y1="1413.4" x2="1139.6" y2="1408.9" stroke="#1a1a1a" stroke-width="1.8" stroke-linecap="round" />
<line x1="1056.8" y1="1385.6" x2="1059.8" y2="1390.1" stroke="#444" stroke-width="1.2" stroke-linecap="round" />
<line x1="1075.3" y1="1382.0" x2="1149.4" y2="1405.2" stroke="#1a1a1a" stroke-width="3.0" stroke-linecap="butt" />
<line x1="1148.4" y1="1405.2" x2="1161.4" y2="1400.7" stroke="#1a1a1a" stroke-width="1.8" stroke-linecap="round" />
<line x1="1078.3" y1="1377.9" x2="1081.3" y2="1382.4" stroke="#444" stroke-width="1.2" stroke-linecap="round" />
<line x1="1096.6" y1="1374.2" x2="1170.9" y2="1397.0" stroke="#1a1a1a" stroke-width="3.0" stroke-linecap="butt" />
<line x1="1169.9" y1="1397.0" x2="1182.9" y2="1392.5" stroke="#1a1a1a" stroke-width="1.8" stroke-linecap="round" />
<line x1="1099.6" y1="1370.2" x2="1102.6" y2="1374.7" stroke="#444" stroke-width="1.2" stroke-linecap="round" />
<line x1="1117.8" y1="1366.6" x2="1192.3" y2="1388.8" stroke="#1a1a1a" stroke-width="3.0" stroke-linecap="butt" />
<line x1="1191.3" y1="1388.8" x2="1204.3" y2="1384.3" stroke="#1a1a1a" stroke-width="1.8" stroke-linecap="round" />
<line x1="1120.8" y1="1362.5" x2="1123.8" y2="1367.0" stroke="#444" stroke-width="1.2" stroke-linecap="round" />
<line x1="1138.7" y1="1359.0" x2="1213.5" y2="1380.8" stroke="#1a1a1a" stroke-width="3.0" stroke-linecap="butt" />
<line x1="1212.5" y1="1380.8" x2="1225.5" y2="1376.3" stroke="#1a1a1a" stroke-width="1.8" stroke-linecap="round" />
<line x1="1141.7" y1="1355.0" x2="1144.7" y2="1359.5" stroke="#444" stroke-width="1.2" stroke-linecap="round" />
<line x1="1159.5" y1="1351.5" x2="1234.5" y2="1372.8" stroke="#1a1a1a" stroke-width="3.0" stroke-linecap="butt" />
<line x1="1233.5" y1="1372.8" x2="1246.5" y2="1368.3" stroke="#1a1a1a" stroke-width="1.8" stroke-linecap="round" />
<line x1="1162.5" y1="1347.5" x2="1165.5" y2="1352.0" stroke="#444" stroke-width="1.2" stroke-linecap="round" />
<line x1="1180.1" y1="1344.1" x2="1255.3" y2="1364.9" stroke="#1a1a1a" stroke-width="3.0" stroke-linecap="butt" />
<line x1="1254.3" y1="1364.9" x2="1267.3" y2="1360.4" stroke="#1a1a1a" stroke-width="1.8" stroke-linecap="round" />
<line x1="1183.1" y1="1340.0" x2="1186.1" y2="1344.5" stroke="#444" stroke-width="1.2" stroke-linecap="round" />
<line x1="1200.5" y1="1336.7" x2="1275.9" y2="1357.1" stroke="#1a1a1a" stroke-width="3.0" stroke-linecap="butt" />
<line x1="1274.9" y1="1357.1" x2="1287.9" y2="1352.6" stroke="#1a1a1a" stroke-width="1.8" stroke-linecap="round" />
<line x1="1203.5" y1="1332.7" x2="1206.5" y2="1337.2" stroke="#444" stroke-width="1.2" stroke-linecap="round" />
<line x1="1220.7" y1="1329.4" x2="1296.4" y2="1349.3" stroke="#1a1a1a" stroke-width="3.0" stroke-linecap="butt" />
<line x1="1295.4" y1="1349.3" x2="1308.4" y2="1344.8" stroke="#1a1a1a" stroke-width="1.8" stroke-linecap="round" />
<line x1="1223.7" y1="1325.3" x2="1226.7" y2="1329.8" stroke="#444" stroke-width="1.2" stroke-linecap="round" />
<line x1="1240.7" y1="1322.2" x2="1316.6" y2="1341.6" stroke="#1a1a1a" stroke-width="3.0" stroke-linecap="butt" />
<line x1="1315.6" y1="1341.6" x2="1328.6" y2="1337.1" stroke="#1a1a1a" stroke-width="1.8" stroke-linecap="round" />
<line x1="1243.7" y1="1318.1" x2="1246.7" y2="1322.6" stroke="#444" stroke-width="1.2" stroke-linecap="round" />
<line x1="1260.6" y1="1315.0" x2="1336.7" y2="1334.0" stroke="#1a1a1a" stroke-width="3.0" stroke-linecap="butt" />
<line x1="1335.7" y1="1334.0" x2="1348.7" y2="1329.5" stroke="#1a1a1a" stroke-width="1.8" stroke-linecap="round" />
<line x1="1263.6" y1="1310.9" x2="1266.6" y2="1315.4" stroke="#444" stroke-width="1.2" stroke-linecap="round" />
<line x1="1280.2" y1="1307.9" x2="1356.6" y2="1326.4" stroke="#1a1a1a" stroke-width="3.0" stroke-linecap="butt" />
<line x1="1355.6" y1="1326.4" x2="1368.6" y2="1321.9" stroke="#1a1a1a" stroke-width="1.8" stroke-linecap="round" />
<line x1="1283.2" y1="1303.8" x2="1286.2" y2="1308.3" stroke="#444" stroke-width="1.2" stroke-linecap="round" />
<line x1="1299.7" y1="1300.9" x2="1376.3" y2="1318.9" stroke="#1a1a1a" stroke-width="3.0" stroke-linecap="butt" />
<line x1="1375.3" y1="1318.9" x2="1388.3" y2="1314.4" stroke="#1a1a1a" stroke-width="1.8" stroke-linecap="round" />
<line x1="1302.7" y1="1296.8" x2="1305.7" y2="1301.3" stroke="#444" stroke-width="1.2" stroke-linecap="round" />
<line x1="1319.0" y1="1293.9" x2="1395.8" y2="1311.5" stroke="#1a1a1a" stroke-width="3.0" stroke-linecap="butt" />
<line x1="1394.8" y1="1311.5" x2="1407.8" y2="1307.0" stroke="#1a1a1a" stroke-width="1.8" stroke-linecap="round" />
<line x1="1322.0" y1="1289.8" x2="1325.0" y2="1294.3" stroke="#444" stroke-width="1.2" stroke-linecap="round" />
<line x1="1338.1" y1="1287.0" x2="1415.1" y2="1304.2" stroke="#1a1a1a" stroke-width="3.0" stroke-linecap="butt" />
<line x1="1414.1" y1="1304.2" x2="1427.1" y2="1299.7" stroke="#1a1a1a" stroke-width="1.8" stroke-linecap="round" />
<line x1="1341.1" y1="1282.9" x2="1344.1" y2="1287.4" stroke="#444" stroke-width="1.2" stroke-linecap="round" />
<line x1="1357.0" y1="1280.2" x2="1434.3" y2="1296.9" stroke="#1a1a1a" stroke-width="3.0" stroke-linecap="butt" />
<line x1="1433.3" y1="1296.9" x2="1446.3" y2="1292.4" stroke="#1a1a1a" stroke-width="1.8" stroke-linecap="round" />
<line x1="1360.0" y1="1276.1" x2="1363.0" y2="1280.6" stroke="#444" stroke-width="1.2" stroke-linecap="round" />
<line x1="1375.7" y1="1273.4" x2="1453.2" y2="1289.7" stroke="#1a1a1a" stroke-width="3.0" stroke-linecap="butt" />
<line x1="1452.2" y1="1289.7" x2="1465.2" y2="1285.2" stroke="#1a1a1a" stroke-width="1.8" stroke-linecap="round" />
<line x1="1378.7" y1="1269.4" x2="1381.7" y2="1273.9" stroke="#444" stroke-width="1.2" stroke-linecap="round" />
<line x1="1394.3" y1="1266.7" x2="1472.0" y2="1282.6" stroke="#1a1a1a" stroke-width="3.0" stroke-linecap="butt" />
<line x1="1471.0" y1="1282.6" x2="1484.0" y2="1278.1" stroke="#1a1a1a" stroke-width="1.8" stroke-linecap="round" />
<line x1="1397.3" y1="1262.7" x2="1400.3" y2="1267.2" stroke="#444" stroke-width="1.2" stroke-linecap="round" />
<line x1="1412.6" y1="1260.1" x2="1490.6" y2="1275.5" stroke="#1a1a1a" stroke-width="3.0" stroke-linecap="butt" />
<line x1="1489.6" y1="1275.5" x2="1502.6" y2="1271.0" stroke="#1a1a1a" stroke-width="1.8" stroke-linecap="round" />
<line x1="1415.6" y1="1256.0" x2="1418.6" y2="1260.5" stroke="#444" stroke-width="1.2" stroke-linecap="round" />
<line x1="1430.8" y1="1253.5" x2="1509.0" y2="1268.5" stroke="#1a1a1a" stroke-width="3.0" stroke-linecap="butt" />
<line x1="1508.0" y1="1268.5" x2="1521.0" y2="1264.0" stroke="#1a1a1a" stroke-width="1.8" stroke-linecap="round" />
<line x1="1433.8" y1="1249.5" x2="1436.8" y2="1254.0" stroke="#444" stroke-width="1.2" stroke-linecap="round" />
<line x1="1448.8" y1="1247.0" x2="1527.2" y2="1261.6" stroke="#1a1a1a" stroke-width="3.0" stroke-linecap="butt" />
<line x1="1526.2" y1="1261.6" x2="1539.2" y2="1257.1" stroke="#1a1a1a" stroke-width="1.8" stroke-linecap="round" />
<line x1="1451.8" y1="1243.0" x2="1454.8" y2="1247.5" stroke="#444" stroke-width="1.2" stroke-linecap="round" />
<line x1="1466.6" y1="1240.6" x2="1545.2" y2="1254.7" stroke="#1a1a1a" stroke-width="3.0" stroke-linecap="butt" />
<line x1="1544.2" y1="1254.7" x2="1557.2" y2="1250.2" stroke="#1a1a1a" stroke-width="1.8" stroke-linecap="round" />
<line x1="1469.6" y1="1236.5" x2="1472.6" y2="1241.0" stroke="#444" stroke-width="1.2" stroke-linecap="round" />
<line x1="1484.2" y1="1234.3" x2="1563.1" y2="1248.0" stroke="#1a1a1a" stroke-width="3.0" stroke-linecap="butt" />
<line x1="1562.1" y1="1248.0" x2="1575.1" y2="1243.5" stroke="#1a1a1a" stroke-width="1.8" stroke-linecap="round" />
<line x1="1487.2" y1="1230.2" x2="1490.2" y2="1234.7" stroke="#444" stroke-width="1.2" stroke-linecap="round" />
<line x1="1501.6" y1="1228.0" x2="1580.7" y2="1241.2" stroke="#1a1a1a" stroke-width="3.0" stroke-linecap="butt" />
<line x1="1579.7" y1="1241.2" x2="1592.7" y2="1236.7" stroke="#1a1a1a" stroke-width="1.8" stroke-linecap="round" />
<line x1="1504.6" y1="1223.9" x2="1507.6" y2="1228.4" stroke="#444" stroke-width="1.2" stroke-linecap="round" />
<line x1="1518.9" y1="1221.7" x2="1598.2" y2="1234.6" stroke="#1a1a1a" stroke-width="3.0" stroke-linecap="butt" />
<line x1="1597.2" y1="1234.6" x2="1610.2" y2="1230.1" stroke="#1a1a1a" stroke-width="1.8" stroke-linecap="round" />
<line x1="1521.9" y1="1217.6" x2="1524.9" y2="1222.1" stroke="#444" stroke-width="1.2" stroke-linecap="round" />
<line x1="1017.0" y1="1568.0" x2="1018.5" y2="1585.0" stroke="#333" stroke-width="2" stroke-linecap="butt" />
<line x1="1063.8" y1="1549.7" x2="1065.2" y2="1585.0" stroke="#333" stroke-width="2" stroke-linecap="butt" />
<line x1="1109.7" y1="1532.8" x2="1111.2" y2="1585.0" stroke="#333" stroke-width="2" stroke-linecap="butt" />
<line x1="1152.5" y1="1513.0" x2="1154.0" y2="1585.0" stroke="#333" stroke-width="2" stroke-linecap="butt" />
<line x1="1194.4" y1="1495.6" x2="1195.9" y2="1585.0" stroke="#333" stroke-width="2" stroke-linecap="butt" />
<line x1="1236.0" y1="1479.0" x2="1237.5" y2="1585.0" stroke="#333" stroke-width="2" stroke-linecap="butt" />
<line x1="1271.0" y1="1467.0" x2="1272.5" y2="1585.0" stroke="#333" stroke-width="2" stroke-linecap="butt" />
<line x1="1310.0" y1="1451.0" x2="1311.5" y2="1585.0" stroke="#333" stroke-width="2" stroke-linecap="butt" />
<line x1="1349.0" y1="1435.0" x2="1350.5" y2="1585.0" stroke="#333" stroke-width="2" stroke-linecap="butt" />
<line x1="1387.5" y1="1420.0" x2="1389.0" y2="1585.0" stroke="#333" stroke-width="2" stroke-linecap="butt" />
<line x1="1425.0" y1="1404.0" x2="1426.5" y2="1585.0" stroke="#333" stroke-width="2" stroke-linecap="butt" />
<line x1="1461.0" y1="1390.0" x2="1462.5" y2="1585.0" stroke="#333" stroke-width="2" stroke-linecap="butt" />
<line x1="1496.0" y1="1375.0" x2="1497.5" y2="1585.0" stroke="#333" stroke-width="2" stroke-linecap="butt" />
<line x1="1531.0" y1="1361.0" x2="1532.5" y2="1585.0" stroke="#333" stroke-width="2" stroke-linecap="butt" />
<line x1="1566.0" y1="1347.0" x2="1567.5" y2="1567.0" stroke="#333" stroke-width="2" stroke-linecap="butt" />
<defs><linearGradient id="heat" x1="0" y1="1" x2="0" y2="0"><stop offset="0" stop-color="#ff4a1c"/><stop offset="1" stop-color="#d0000e"/></linearGradient></defs>
<g transform="translate(1134.0,1397.0)">
<path d="M0,0 C5,-7 11.5,-14 10.5,-20 C9.5,-27 0,-30 0.5,-38 C1,-46 10.5,-50 10,-58 C9.8,-62 6,-66 2.5,-71" fill="none" stroke="#fff" stroke-width="8" stroke-linecap="butt" opacity="0.8"/>
<polygon points="-5.5,-83 -7.5,-66.5 12,-74.5" fill="#fff" stroke="#fff" stroke-width="2" stroke-linejoin="round" opacity="0.8"/>
<path d="M0,0 C5,-7 11.5,-14 10.5,-20 C9.5,-27 0,-30 0.5,-38 C1,-46 10.5,-50 10,-58 C9.8,-62 6,-66 2.5,-71" fill="none" stroke="url(#heat)" stroke-width="7" stroke-linecap="butt"/>
<polygon points="-5.5,-83 -7.5,-66.5 12,-74.5" fill="#d4000f"/>
</g>
<g transform="translate(1174.4,1381.5)">
<path d="M0,0 C5,-7 11.5,-14 10.5,-20 C9.5,-27 0,-30 0.5,-38 C1,-46 10.5,-50 10,-58 C9.8,-62 6,-66 2.5,-71" fill="none" stroke="#fff" stroke-width="8" stroke-linecap="butt" opacity="0.8"/>
<polygon points="-5.5,-83 -7.5,-66.5 12,-74.5" fill="#fff" stroke="#fff" stroke-width="2" stroke-linejoin="round" opacity="0.8"/>
<path d="M0,0 C5,-7 11.5,-14 10.5,-20 C9.5,-27 0,-30 0.5,-38 C1,-46 10.5,-50 10,-58 C9.8,-62 6,-66 2.5,-71" fill="none" stroke="url(#heat)" stroke-width="7" stroke-linecap="butt"/>
<polygon points="-5.5,-83 -7.5,-66.5 12,-74.5" fill="#d4000f"/>
</g>
<g transform="translate(1214.8,1366.0)">
<path d="M0,0 C5,-7 11.5,-14 10.5,-20 C9.5,-27 0,-30 0.5,-38 C1,-46 10.5,-50 10,-58 C9.8,-62 6,-66 2.5,-71" fill="none" stroke="#fff" stroke-width="8" stroke-linecap="butt" opacity="0.8"/>
<polygon points="-5.5,-83 -7.5,-66.5 12,-74.5" fill="#fff" stroke="#fff" stroke-width="2" stroke-linejoin="round" opacity="0.8"/>
<path d="M0,0 C5,-7 11.5,-14 10.5,-20 C9.5,-27 0,-30 0.5,-38 C1,-46 10.5,-50 10,-58 C9.8,-62 6,-66 2.5,-71" fill="none" stroke="url(#heat)" stroke-width="7" stroke-linecap="butt"/>
<polygon points="-5.5,-83 -7.5,-66.5 12,-74.5" fill="#d4000f"/>
</g>
<g transform="translate(1255.2,1350.5)">
<path d="M0,0 C5,-7 11.5,-14 10.5,-20 C9.5,-27 0,-30 0.5,-38 C1,-46 10.5,-50 10,-58 C9.8,-62 6,-66 2.5,-71" fill="none" stroke="#fff" stroke-width="8" stroke-linecap="butt" opacity="0.8"/>
<polygon points="-5.5,-83 -7.5,-66.5 12,-74.5" fill="#fff" stroke="#fff" stroke-width="2" stroke-linejoin="round" opacity="0.8"/>
<path d="M0,0 C5,-7 11.5,-14 10.5,-20 C9.5,-27 0,-30 0.5,-38 C1,-46 10.5,-50 10,-58 C9.8,-62 6,-66 2.5,-71" fill="none" stroke="url(#heat)" stroke-width="7" stroke-linecap="butt"/>
<polygon points="-5.5,-83 -7.5,-66.5 12,-74.5" fill="#d4000f"/>
</g>
<g transform="translate(1295.6,1335.0)">
<path d="M0,0 C5,-7 11.5,-14 10.5,-20 C9.5,-27 0,-30 0.5,-38 C1,-46 10.5,-50 10,-58 C9.8,-62 6,-66 2.5,-71" fill="none" stroke="#fff" stroke-width="8" stroke-linecap="butt" opacity="0.8"/>
<polygon points="-5.5,-83 -7.5,-66.5 12,-74.5" fill="#fff" stroke="#fff" stroke-width="2" stroke-linejoin="round" opacity="0.8"/>
<path d="M0,0 C5,-7 11.5,-14 10.5,-20 C9.5,-27 0,-30 0.5,-38 C1,-46 10.5,-50 10,-58 C9.8,-62 6,-66 2.5,-71" fill="none" stroke="url(#heat)" stroke-width="7" stroke-linecap="butt"/>
<polygon points="-5.5,-83 -7.5,-66.5 12,-74.5" fill="#d4000f"/>
</g>
<g transform="translate(1336.0,1319.5)">
<path d="M0,0 C5,-7 11.5,-14 10.5,-20 C9.5,-27 0,-30 0.5,-38 C1,-46 10.5,-50 10,-58 C9.8,-62 6,-66 2.5,-71" fill="none" stroke="#fff" stroke-width="8" stroke-linecap="butt" opacity="0.8"/>
<polygon points="-5.5,-83 -7.5,-66.5 12,-74.5" fill="#fff" stroke="#fff" stroke-width="2" stroke-linejoin="round" opacity="0.8"/>
<path d="M0,0 C5,-7 11.5,-14 10.5,-20 C9.5,-27 0,-30 0.5,-38 C1,-46 10.5,-50 10,-58 C9.8,-62 6,-66 2.5,-71" fill="none" stroke="url(#heat)" stroke-width="7" stroke-linecap="butt"/>
<polygon points="-5.5,-83 -7.5,-66.5 12,-74.5" fill="#d4000f"/>
</g>
<g transform="translate(1376.4,1304.0)">
<path d="M0,0 C5,-7 11.5,-14 10.5,-20 C9.5,-27 0,-30 0.5,-38 C1,-46 10.5,-50 10,-58 C9.8,-62 6,-66 2.5,-71" fill="none" stroke="#fff" stroke-width="8" stroke-linecap="butt" opacity="0.8"/>
<polygon points="-5.5,-83 -7.5,-66.5 12,-74.5" fill="#fff" stroke="#fff" stroke-width="2" stroke-linejoin="round" opacity="0.8"/>
<path d="M0,0 C5,-7 11.5,-14 10.5,-20 C9.5,-27 0,-30 0.5,-38 C1,-46 10.5,-50 10,-58 C9.8,-62 6,-66 2.5,-71" fill="none" stroke="url(#heat)" stroke-width="7" stroke-linecap="butt"/>
<polygon points="-5.5,-83 -7.5,-66.5 12,-74.5" fill="#d4000f"/>
</g>
<g transform="translate(1416.8,1288.5)">
<path d="M0,0 C5,-7 11.5,-14 10.5,-20 C9.5,-27 0,-30 0.5,-38 C1,-46 10.5,-50 10,-58 C9.8,-62 6,-66 2.5,-71" fill="none" stroke="#fff" stroke-width="8" stroke-linecap="butt" opacity="0.8"/>
<polygon points="-5.5,-83 -7.5,-66.5 12,-74.5" fill="#fff" stroke="#fff" stroke-width="2" stroke-linejoin="round" opacity="0.8"/>
<path d="M0,0 C5,-7 11.5,-14 10.5,-20 C9.5,-27 0,-30 0.5,-38 C1,-46 10.5,-50 10,-58 C9.8,-62 6,-66 2.5,-71" fill="none" stroke="url(#heat)" stroke-width="7" stroke-linecap="butt"/>
<polygon points="-5.5,-83 -7.5,-66.5 12,-74.5" fill="#d4000f"/>
</g>
<g transform="translate(1457.2,1273.0)">
<path d="M0,0 C5,-7 11.5,-14 10.5,-20 C9.5,-27 0,-30 0.5,-38 C1,-46 10.5,-50 10,-58 C9.8,-62 6,-66 2.5,-71" fill="none" stroke="#fff" stroke-width="8" stroke-linecap="butt" opacity="0.8"/>
<polygon points="-5.5,-83 -7.5,-66.5 12,-74.5" fill="#fff" stroke="#fff" stroke-width="2" stroke-linejoin="round" opacity="0.8"/>
<path d="M0,0 C5,-7 11.5,-14 10.5,-20 C9.5,-27 0,-30 0.5,-38 C1,-46 10.5,-50 10,-58 C9.8,-62 6,-66 2.5,-71" fill="none" stroke="url(#heat)" stroke-width="7" stroke-linecap="butt"/>
<polygon points="-5.5,-83 -7.5,-66.5 12,-74.5" fill="#d4000f"/>
</g>
<g transform="translate(1497.6,1257.5)">
<path d="M0,0 C5,-7 11.5,-14 10.5,-20 C9.5,-27 0,-30 0.5,-38 C1,-46 10.5,-50 10,-58 C9.8,-62 6,-66 2.5,-71" fill="none" stroke="#fff" stroke-width="8" stroke-linecap="butt" opacity="0.8"/>
<polygon points="-5.5,-83 -7.5,-66.5 12,-74.5" fill="#fff" stroke="#fff" stroke-width="2" stroke-linejoin="round" opacity="0.8"/>
<path d="M0,0 C5,-7 11.5,-14 10.5,-20 C9.5,-27 0,-30 0.5,-38 C1,-46 10.5,-50 10,-58 C9.8,-62 6,-66 2.5,-71" fill="none" stroke="url(#heat)" stroke-width="7" stroke-linecap="butt"/>
<polygon points="-5.5,-83 -7.5,-66.5 12,-74.5" fill="#d4000f"/>
</g>
<g transform="translate(1538.0,1242.0)">
<path d="M0,0 C5,-7 11.5,-14 10.5,-20 C9.5,-27 0,-30 0.5,-38 C1,-46 10.5,-50 10,-58 C9.8,-62 6,-66 2.5,-71" fill="none" stroke="#fff" stroke-width="8" stroke-linecap="butt" opacity="0.8"/>
<polygon points="-5.5,-83 -7.5,-66.5 12,-74.5" fill="#fff" stroke="#fff" stroke-width="2" stroke-linejoin="round" opacity="0.8"/>
<path d="M0,0 C5,-7 11.5,-14 10.5,-20 C9.5,-27 0,-30 0.5,-38 C1,-46 10.5,-50 10,-58 C9.8,-62 6,-66 2.5,-71" fill="none" stroke="url(#heat)" stroke-width="7" stroke-linecap="butt"/>
<polygon points="-5.5,-83 -7.5,-66.5 12,-74.5" fill="#d4000f"/>
</g>
<line x1="1072.0" y1="1215.6" x2="1072.0" y2="1488.6" stroke="#fff" stroke-width="10" stroke-linecap="round" />
<line x1="1072.0" y1="1215.6" x2="1072.0" y2="1488.6" stroke="#f2000f" stroke-width="3.5" stroke-linecap="butt" />
<polygon points="1072.0,1260.0 1064.5,1246.0 1079.5,1246.0" fill="#f2000f" stroke="none" stroke-width="0" stroke-linejoin="round" />
<polygon points="1072.0,1438.7 1064.5,1452.7 1079.5,1452.7" fill="#f2000f" stroke="none" stroke-width="0" stroke-linejoin="round" />
<text transform="translate(1044,1457) rotate(-90)" font-family="Liberation Sans, sans-serif" font-weight="bold" font-size="46" fill="#f2000f" stroke="#fff" stroke-width="6" paint-order="stroke" stroke-linejoin="round" textLength="285" lengthAdjust="spacing">Min.150 mm</text>
<polygon points="994.4,1496.5 1045.0,1470.0 1045.0,1525.3" fill="#e3202a" stroke="#fff" stroke-width="12" stroke-linejoin="round" />
<polygon points="994.4,1496.5 1045.0,1470.0 1045.0,1525.3" fill="#e3202a" stroke="#e3202a" stroke-width="5" stroke-linejoin="round" />
<line x1="1010.5" y1="1497.2" x2="1026.0" y2="1497.2" stroke="#f4e6e0" stroke-width="6.5" stroke-linecap="round" />
<circle cx="1035.6" cy="1497.2" r="3.4" fill="#f4e6e0"/>
</g>
<circle cx="97" cy="100" r="47" fill="#931282"/>
<path d="M106.25,80.6 L106.25,119.4 L96.25,119.4 L96.25,92 L87.5,93.1 L87.5,86.25 L98,80.6 Z" fill="#fff" fill-rule="evenodd"/>
<circle cx="902" cy="100" r="47" fill="#931282"/>
<path d="M888.4,94.3 C888.4,86 894,80.5 901.5,80.5 C909,80.5 914.5,85.5 914.5,92.5 C914.5,97 912.5,100.5 909.5,104 L902,110.4 L915.4,110.4 L915.4,118.4 L888.8,118.4 L888.8,112.5 L902,99.5 C904.5,97 905.5,95 905.5,92.5 C905.5,89.7 903.8,88 901.2,88 C898.5,88 896.5,90 896.5,94.3 Z" fill="#fff" fill-rule="evenodd"/>
<circle cx="97" cy="900" r="47" fill="#931282"/>
<path d="M84.5,892.5 C85,885 90.5,880.5 97.5,880.5 C105,880.5 110.5,885 110.5,891.5 C110.5,895 108.8,897.8 106.5,899.4 C109.5,901 111.2,904.5 111.2,908 C111.2,914.5 105.5,918.4 97.5,918.4 C89,918.4 84,913.5 83.9,905.6 L93,905.6 C93.2,908.5 95,910.5 97.8,910.5 C100.5,910.5 102.2,908.8 102.2,906.2 C102.2,903.4 100.2,902 97.5,902 L93.5,902 L93.5,895.8 L97.5,895.8 C100,895.8 101.5,894.3 101.5,892 C101.5,889.8 99.8,888.3 97.6,888.3 C95.3,888.3 93.8,889.8 93.6,892.5 Z" fill="#fff" fill-rule="evenodd"/>
<circle cx="902" cy="899.5" r="47" fill="#931282"/>
<path d="M900.5,880.5 L911.4,880.5 L911.4,903.7 L915.1,903.7 L915.1,910.5 L911.4,910.5 L911.4,918.4 L903.1,918.4 L903.1,910.5 L887.7,910.5 L887.7,903.7 Z M903.1,894.4 L896.9,903.7 L903.1,903.7 Z" fill="#fff" fill-rule="evenodd"/>
</svg>
</body></html>
